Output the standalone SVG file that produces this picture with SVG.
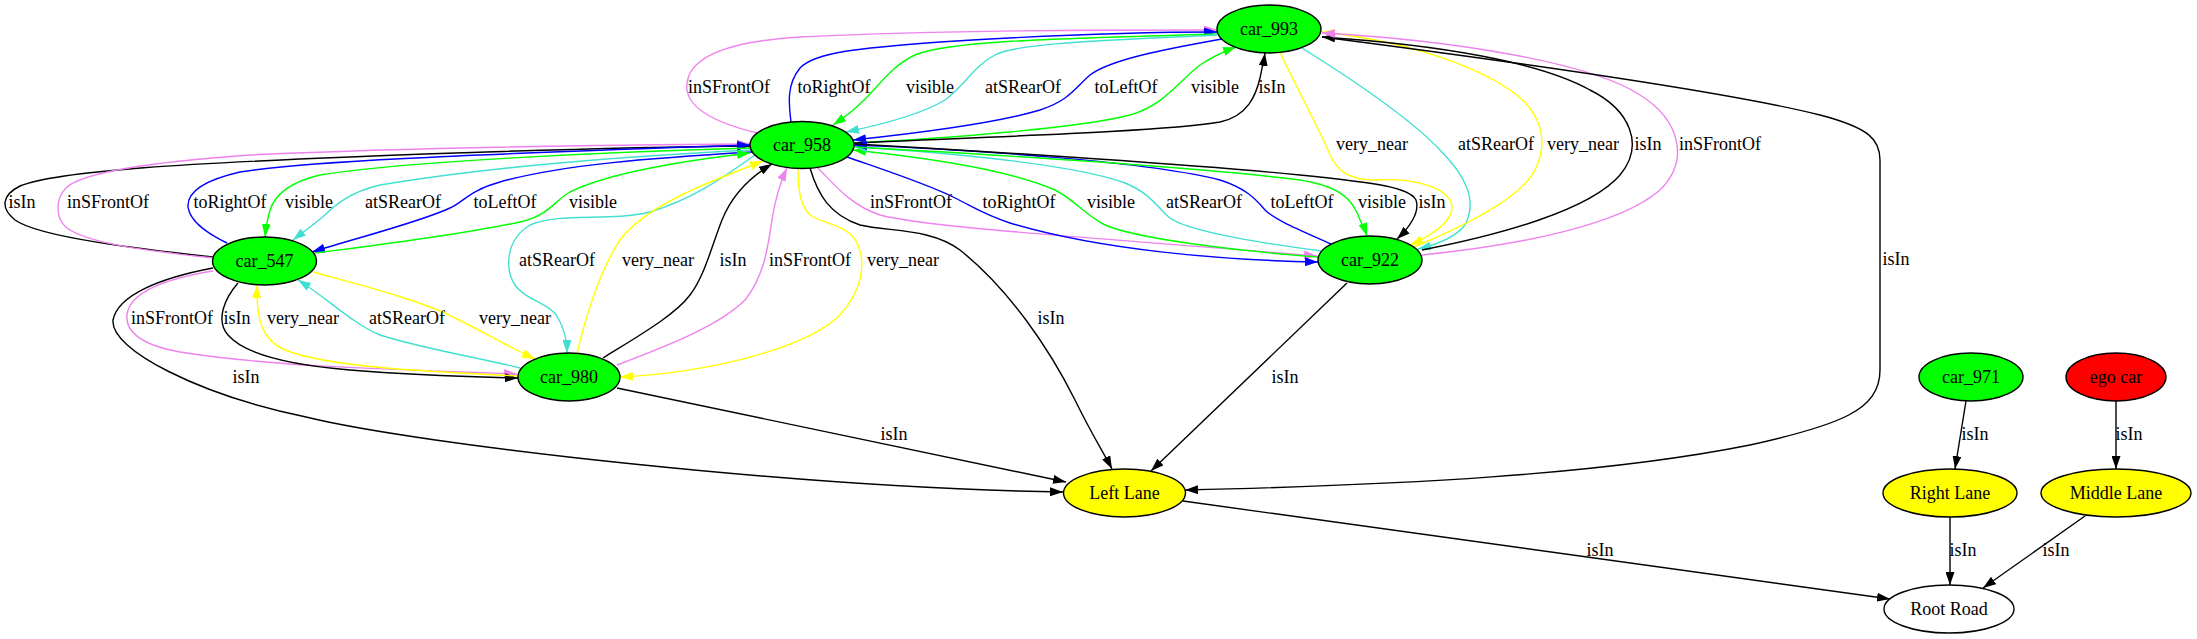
<svg xmlns="http://www.w3.org/2000/svg" width="2197" height="639" viewBox="0 0 2197 639">
<style>
.n{stroke:#000;stroke-width:1.4}
.g{fill:#00ff00}.r{fill:#ff0000}.y{fill:#ffff00}.w{fill:#fff}
text{font-family:"Liberation Serif","Times New Roman",serif;font-size:18px;fill:#000;text-anchor:middle}
.e{fill:none;stroke-width:1.4}
.k{stroke:#000;marker-end:url(#mk)}
.b{stroke:#0000ff;marker-end:url(#mb)}
.gr{stroke:#00ff00;marker-end:url(#mg)}
.c{stroke:#40e0d0;marker-end:url(#mc)}
.v{stroke:#ee82ee;marker-end:url(#mv)}
.yl{stroke:#ffff00;marker-end:url(#my)}
</style>
<defs>
<marker id="mk" viewBox="0 0 13 9" refX="13" refY="4.5" markerWidth="13" markerHeight="9" markerUnits="userSpaceOnUse" orient="auto"><path d="M0,0L13,4.5L0,9z" fill="#000"/></marker>
<marker id="mb" viewBox="0 0 13 9" refX="13" refY="4.5" markerWidth="13" markerHeight="9" markerUnits="userSpaceOnUse" orient="auto"><path d="M0,0L13,4.5L0,9z" fill="#0000ff"/></marker>
<marker id="mg" viewBox="0 0 13 9" refX="13" refY="4.5" markerWidth="13" markerHeight="9" markerUnits="userSpaceOnUse" orient="auto"><path d="M0,0L13,4.5L0,9z" fill="#00ff00"/></marker>
<marker id="mc" viewBox="0 0 13 9" refX="13" refY="4.5" markerWidth="13" markerHeight="9" markerUnits="userSpaceOnUse" orient="auto"><path d="M0,0L13,4.5L0,9z" fill="#40e0d0"/></marker>
<marker id="mv" viewBox="0 0 13 9" refX="13" refY="4.5" markerWidth="13" markerHeight="9" markerUnits="userSpaceOnUse" orient="auto"><path d="M0,0L13,4.5L0,9z" fill="#ee82ee"/></marker>
<marker id="my" viewBox="0 0 13 9" refX="13" refY="4.5" markerWidth="13" markerHeight="9" markerUnits="userSpaceOnUse" orient="auto"><path d="M0,0L13,4.5L0,9z" fill="#ffff00"/></marker>
</defs>
<rect width="2197" height="639" fill="#fff"/>
<g id="edges">
<!-- car_958 <-> car_993 -->
<path class="e v" d="M757,133 C720,124 690,110 687,90 C684,60 720,42 800,37 C950,30 1100,30 1217,30"/>
<path class="e b" d="M791,122 C789,105 786,85 800,68 C815,52 860,48 940,42 C1050,35 1150,32 1217,32"/>
<path class="e gr" d="M1217,34 C1080,38 950,40 915,55 C890,67 880,85 862,102 C852,112 842,119 833,125"/>
<path class="e c" d="M1217,35 C1120,40 1020,42 995,55 C975,65 965,85 945,100 C920,115 880,125 846,132"/>
<path class="e b" d="M1222,39 C1160,50 1110,60 1090,75 C1075,88 1070,100 1040,110 C990,125 900,135 853,140"/>
<path class="e gr" d="M854,143 C950,138 1080,128 1130,115 C1165,105 1180,80 1200,65 C1212,57 1225,51 1236,47"/>
<path class="e k" d="M854,143 C980,137 1160,132 1220,122 C1248,116 1256,95 1260,78 C1262,68 1264,60 1265,53"/>
<!-- car_547 <-> car_958 -->
<path class="e k" d="M213,257 C150,250 40,238 15,220 C0,208 2,195 20,186 C60,170 200,163 350,157 C500,151 650,147 750,146"/>
<path class="e v" d="M213,258 C160,252 90,245 67,228 C55,218 55,198 67,187 C85,172 150,162 250,155 C400,148 600,145 750,144"/>
<path class="e b" d="M227,243 C210,235 190,222 188,207 C187,192 205,180 240,172 C300,162 450,155 750,145"/>
<path class="e gr" d="M751,148 C600,152 400,162 320,175 C290,182 275,195 270,210 C267,220 266,228 265,237"/>
<path class="e c" d="M751,150 C650,155 500,165 380,185 C350,192 335,205 325,215 C312,226 302,233 293,240"/>
<path class="e b" d="M752,152 C650,158 560,165 500,182 C470,190 462,203 450,208 C420,222 360,237 312,252"/>
<path class="e gr" d="M315,253 C380,245 460,235 520,222 C550,215 555,200 570,192 C610,172 690,160 750,153"/>
<!-- car_958 <-> car_980 -->
<path class="e c" d="M755,155 C720,180 690,200 650,212 C610,222 560,212 530,225 C505,240 505,270 515,285 C525,300 550,303 558,318 C565,330 567,342 567,353"/>
<path class="e yl" d="M577,353 C585,320 600,270 620,240 C640,212 690,190 720,178 C735,172 750,166 763,161"/>
<path class="e k" d="M603,358 C640,335 675,315 690,295 C705,275 712,245 722,220 C730,200 745,180 772,164"/>
<path class="e v" d="M617,365 C670,345 720,325 745,300 C765,275 768,245 772,220 C775,200 780,183 787,168"/>
<path class="e yl" d="M798,168 C798,190 800,205 810,215 C825,225 850,225 858,245 C866,265 862,290 840,315 C810,345 720,372 620,377"/>
<!-- car_547 <-> car_980 -->
<path class="e v" d="M213,271 C170,278 135,290 128,310 C122,330 140,345 180,352 C280,368 420,370 517,374"/>
<path class="e k" d="M238,283 C225,298 215,320 228,335 C245,355 290,365 350,370 C420,376 480,377 518,378"/>
<path class="e yl" d="M518,376 C440,372 330,368 285,350 C262,340 256,320 257,285"/>
<path class="e c" d="M520,368 C480,358 420,348 380,335 C350,322 330,300 298,280"/>
<path class="e yl" d="M313,272 C360,285 420,300 455,318 C480,330 505,345 535,359"/>
<!-- car_958 <-> car_922 -->
<path class="e v" d="M817,167 C835,185 850,205 880,215 C930,228 1100,238 1317,256"/>
<path class="e b" d="M847,157 C890,172 930,185 955,198 C975,208 985,215 1010,223 C1100,250 1220,260 1318,262"/>
<path class="e gr" d="M1318,257 C1250,252 1140,240 1105,225 C1085,215 1075,200 1055,190 C1010,170 930,158 853,150"/>
<path class="e c" d="M1322,251 C1260,243 1190,232 1170,218 C1158,208 1150,193 1125,183 C1080,166 960,153 854,147"/>
<path class="e b" d="M1331,244 C1300,230 1275,220 1265,210 C1255,198 1245,188 1220,180 C1150,162 980,150 854,145"/>
<path class="e gr" d="M855,147 C1000,155 1200,167 1300,180 C1340,186 1352,200 1358,215 C1362,225 1365,230 1367,236"/>
<path class="e k" d="M855,144 C1000,152 1200,165 1300,175 C1380,183 1410,188 1416,200 C1420,212 1410,227 1397,239"/>
<!-- car_993 <-> car_922 -->
<path class="e yl" d="M1280,52 C1295,85 1320,130 1330,155 C1338,172 1350,180 1375,180 C1410,178 1440,185 1450,200 C1458,215 1440,232 1410,245"/>
<path class="e c" d="M1302,48 C1350,78 1410,118 1440,150 C1465,175 1478,200 1465,225 C1455,238 1435,245 1418,249"/>
<path class="e yl" d="M1414,247 C1460,228 1520,200 1535,170 C1550,140 1540,110 1510,90 C1470,63 1400,40 1322,32"/>
<path class="e k" d="M1422,250 C1500,235 1590,210 1620,175 C1645,145 1630,110 1590,90 C1540,62 1440,45 1322,37"/>
<path class="e v" d="M1422,255 C1520,245 1620,225 1660,190 C1690,160 1680,120 1640,95 C1590,62 1450,40 1322,33"/>
<!-- to Left Lane -->
<path class="e k" d="M1322,37 C1500,60 1720,90 1820,115 C1870,128 1880,140 1880,160 L1880,370 C1880,410 1840,425 1750,445 C1600,475 1400,485 1185,490"/>
<path class="e k" d="M810,168 C818,195 830,215 860,225 C890,232 930,228 960,250 C1010,290 1050,350 1075,400 C1092,435 1105,455 1112,469"/>
<path class="e k" d="M1347,283 L1151,471"/>
<path class="e k" d="M617,388 L1066,482"/>
<path class="e k" d="M213,268 C160,278 118,295 113,320 C110,350 200,395 306,417 C420,445 800,488 1063,492"/>
<!-- lanes / road -->
<path class="e k" d="M1183,501 L1890,599"/>
<path class="e k" d="M1966,401 L1955,469"/>
<path class="e k" d="M2116,401 L2116,469"/>
<path class="e k" d="M1950,517 L1950,585"/>
<path class="e k" d="M2085,516 L1983,588"/>
</g>
<g id="edge-labels">
<text x="729" y="93">inSFrontOf</text>
<text x="834" y="93">toRightOf</text>
<text x="930" y="93">visible</text>
<text x="1023" y="93">atSRearOf</text>
<text x="1126" y="93">toLeftOf</text>
<text x="1215" y="93">visible</text>
<text x="1272" y="93">isIn</text>
<text x="1372" y="150">very_near</text>
<text x="1496" y="150">atSRearOf</text>
<text x="1583" y="150">very_near</text>
<text x="1648" y="150">isIn</text>
<text x="1720" y="150">inSFrontOf</text>
<text x="22" y="208">isIn</text>
<text x="108" y="208">inSFrontOf</text>
<text x="230" y="208">toRightOf</text>
<text x="309" y="208">visible</text>
<text x="403" y="208">atSRearOf</text>
<text x="505" y="208">toLeftOf</text>
<text x="593" y="208">visible</text>
<text x="911" y="208">inSFrontOf</text>
<text x="1019" y="208">toRightOf</text>
<text x="1111" y="208">visible</text>
<text x="1204" y="208">atSRearOf</text>
<text x="1302" y="208">toLeftOf</text>
<text x="1382" y="208">visible</text>
<text x="1432" y="208">isIn</text>
<text x="557" y="266">atSRearOf</text>
<text x="658" y="266">very_near</text>
<text x="733" y="266">isIn</text>
<text x="810" y="266">inSFrontOf</text>
<text x="903" y="266">very_near</text>
<text x="1896" y="265">isIn</text>
<text x="172" y="324">inSFrontOf</text>
<text x="237" y="324">isIn</text>
<text x="303" y="324">very_near</text>
<text x="407" y="324">atSRearOf</text>
<text x="515" y="324">very_near</text>
<text x="1051" y="324">isIn</text>
<text x="246" y="383">isIn</text>
<text x="1285" y="383">isIn</text>
<text x="894" y="440">isIn</text>
<text x="1975" y="440">isIn</text>
<text x="2129" y="440">isIn</text>
<text x="1600" y="556">isIn</text>
<text x="1963" y="556">isIn</text>
<text x="2056" y="556">isIn</text>
</g>
<g id="car_993"><ellipse class="n g" cx="1269" cy="29" rx="52" ry="24"/><text x="1269" y="35">car_993</text></g>
<g id="car_958"><ellipse class="n g" cx="802" cy="145" rx="52" ry="23.5"/><text x="802" y="151">car_958</text></g>
<g id="car_547"><ellipse class="n g" cx="264.5" cy="261" rx="52" ry="24"/><text x="264.5" y="267">car_547</text></g>
<g id="car_980"><ellipse class="n g" cx="569" cy="377" rx="51" ry="24"/><text x="569" y="383">car_980</text></g>
<g id="car_922"><ellipse class="n g" cx="1370" cy="260" rx="52" ry="24"/><text x="1370" y="266">car_922</text></g>
<g id="left_lane"><ellipse class="n y" cx="1124.5" cy="493" rx="61" ry="24"/><text x="1124.5" y="499">Left Lane</text></g>
<g id="car_971"><ellipse class="n g" cx="1971" cy="377" rx="52" ry="24"/><text x="1971" y="383">car_971</text></g>
<g id="ego_car"><ellipse class="n r" cx="2116" cy="377" rx="50" ry="24"/><text x="2116" y="383">ego car</text></g>
<g id="right_lane"><ellipse class="n y" cx="1950" cy="493" rx="67" ry="24"/><text x="1950" y="499">Right Lane</text></g>
<g id="middle_lane"><ellipse class="n y" cx="2116" cy="493" rx="75" ry="24"/><text x="2116" y="499">Middle Lane</text></g>
<g id="root_road"><ellipse class="n w" cx="1949" cy="609" rx="65" ry="24"/><text x="1949" y="615">Root Road</text></g>
</svg>
